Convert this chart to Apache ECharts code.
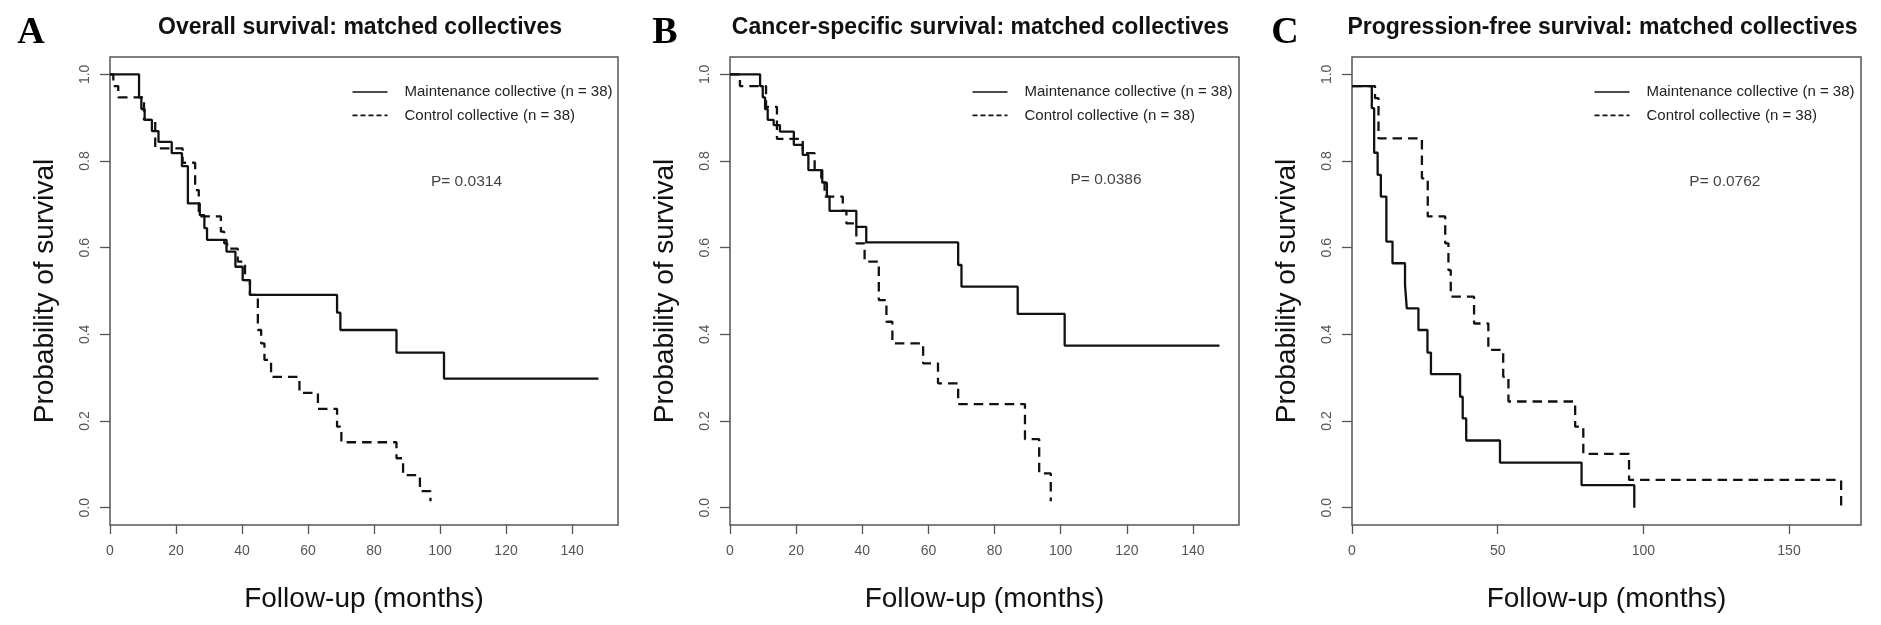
<!DOCTYPE html>
<html>
<head>
<meta charset="utf-8">
<script src="https://cdn.jsdelivr.net/npm/echarts@6.0.0/dist/echarts.min.js"></script>
<style>
html,body{margin:0;padding:0;background:#fff;}
#chart{width:1881px;height:625px;}
</style>
</head>
<body>
<div id="chart"></div>
<script>
// ---------- data (months, survival probability) ----------
const panelTitles = [
  'Overall survival: matched collectives',
  'Cancer-specific survival: matched collectives',
  'Progression-free survival: matched collectives'
];
const panelLetters = ['A', 'B', 'C'];
const seriesNames = ['Maintenance collective (n = 38)', 'Control collective (n = 38)'];
const pValues = ['P= 0.0314', 'P= 0.0386', 'P= 0.0762'];

const xTicksAB = [0, 20, 40, 60, 80, 100, 120, 140];
const xTicksC = [0, 50, 100, 150];
const yTicks = [0, 0.2, 0.4, 0.6, 0.8, 1.0];

// A: overall survival
const osMaintT = [0, 8.8, 9.5, 10.5, 12.7, 14.7, 18.7, 21.8, 23.6, 27.2, 28.6, 29.4, 35.3, 38.0, 40.2, 42.4, 68.8, 69.8, 86.8, 101.2, 148];
const osMaintS = [1, 0.947, 0.920, 0.895, 0.869, 0.844, 0.818, 0.788, 0.702, 0.675, 0.645, 0.618, 0.591, 0.556, 0.525, 0.491, 0.45, 0.41, 0.358, 0.298, 0.298];
const osCtrlT = [0, 1.0, 2.5, 10.3, 13.7, 22.0, 25.8, 26.9, 33.6, 34.6, 35.5, 38.7, 40.9, 42.4, 44.8, 45.8, 46.8, 48.8, 57.4, 63.0, 68.8, 70.1, 86.8, 88.8, 93.9, 97.1];
const osCtrlS = [1, 0.973, 0.947, 0.895, 0.829, 0.796, 0.733, 0.672, 0.637, 0.61, 0.598, 0.568, 0.525, 0.491, 0.41, 0.379, 0.341, 0.302, 0.265, 0.228, 0.187, 0.151, 0.114, 0.075, 0.038, 0.015];

// B: cancer-specific survival
const cssMaintT = [0, 9.1, 9.9, 10.6, 11.4, 13.2, 15.1, 19.3, 22.0, 23.7, 27.9, 29.3, 30.1, 38.2, 41.2, 69.0, 70.0, 87.0, 101.2, 148];
const cssMaintS = [1, 0.973, 0.947, 0.92, 0.895, 0.883, 0.868, 0.837, 0.814, 0.779, 0.75, 0.718, 0.685, 0.648, 0.612, 0.56, 0.51, 0.447, 0.374, 0.374];
const cssCtrlT = [0, 3.0, 10.9, 14.2, 22.0, 25.6, 27.6, 28.6, 34.1, 35.2, 38.2, 40.7, 45.0, 47.3, 49.1, 58.4, 62.9, 69.0, 89.2, 93.5, 97.0];
const cssCtrlS = [1, 0.973, 0.925, 0.851, 0.818, 0.779, 0.756, 0.718, 0.685, 0.656, 0.61, 0.568, 0.479, 0.429, 0.379, 0.333, 0.287, 0.239, 0.158, 0.079, 0.015];

// C: progression-free survival
const pfsMaintT = [0, 6.8, 7.6, 8.8, 9.9, 11.8, 13.9, 18.2, 18.8, 22.8, 25.9, 27.1, 37.1, 38.0, 39.2, 50.8, 78.8, 96.9];
const pfsMaintS = [0.973, 0.922, 0.819, 0.768, 0.718, 0.614, 0.564, 0.514, 0.46, 0.41, 0.358, 0.308, 0.256, 0.206, 0.155, 0.104, 0.052, 0];
const pfsCtrlT = [0, 7.9, 9.1, 24.0, 26.0, 32.0, 33.1, 33.9, 41.9, 46.8, 51.9, 53.7, 76.6, 79.4, 95.1, 167.9];
const pfsCtrlS = [0.973, 0.945, 0.852, 0.76, 0.672, 0.61, 0.548, 0.487, 0.425, 0.364, 0.302, 0.245, 0.187, 0.124, 0.064, 0];

// p-value annotation anchor (data coordinates)
const pValueAnchors = [[108, 0.752], [113.7, 0.756], [128, 0.752]];

// ---------- build ----------
const FONT = '"Liberation Sans", Arial, Helvetica, sans-serif';
const pairs = (T, S) => T.map((t, i) => [t, S[i]]);
const curves = [
  [pairs(osMaintT, osMaintS), pairs(osCtrlT, osCtrlS)],
  [pairs(cssMaintT, cssMaintS), pairs(cssCtrlT, cssCtrlS)],
  [pairs(pfsMaintT, pfsMaintS), pairs(pfsCtrlT, pfsCtrlS)]
];
const xMax = [148 * 1.04, 148 * 1.04, 168 * 1.04];
const xTicks = [xTicksAB, xTicksAB, xTicksC];
const gridLeft = [110, 730, 1352];
const gridWidth = [508, 509, 509];
const letterX = [31, 665, 1285];

const grids = [], xAxes = [], yAxes = [], series = [], legends = [], graphics = [];
for (let p = 0; p < 3; p++) {
  grids.push({
    left: gridLeft[p], top: 57, width: gridWidth[p], height: 468,
    show: true, borderColor: '#555', borderWidth: 1.5, backgroundColor: 'transparent'
  });
  xAxes.push({
    type: 'value', gridIndex: p, min: 0, max: xMax[p], position: 'bottom',
    axisLine: { show: false, onZero: false },
    axisTick: { show: true, inside: false, length: 9, customValues: xTicks[p], lineStyle: { color: '#555', width: 1.3 } },
    axisLabel: { show: true, customValues: xTicks[p], margin: 19, color: '#555', fontSize: 14, fontFamily: FONT },
    splitLine: { show: false },
    name: 'Follow-up (months)', nameLocation: 'middle', nameGap: 60,
    nameTextStyle: { fontSize: 28, color: '#111', fontFamily: FONT }
  });
  yAxes.push({
    type: 'value', gridIndex: p, min: -0.04, max: 1.04, position: 'left',
    axisLine: { show: false, onZero: false },
    axisTick: { show: true, inside: false, length: 10, customValues: yTicks, lineStyle: { color: '#555', width: 1.3 } },
    axisLabel: { show: true, customValues: yTicks, rotate: 90, margin: 18, color: '#555', fontSize: 14, fontFamily: FONT,
      formatter: v => Number(v).toFixed(1) },
    splitLine: { show: false },
    name: 'Probability of survival', nameLocation: 'middle', nameGap: 51,
    nameTextStyle: { fontSize: 28, color: '#111', fontFamily: FONT }
  });
  series.push({
    name: seriesNames[0], type: 'line', step: 'end', xAxisIndex: p, yAxisIndex: p,
    data: curves[p][0], symbol: 'none', showSymbol: false, silent: true,
    lineStyle: { color: '#111', width: 2.3, type: 'solid' }, itemStyle: { color: '#111' }
  });
  series.push({
    name: seriesNames[1], type: 'line', step: 'end', xAxisIndex: p, yAxisIndex: p,
    data: curves[p][1], symbol: 'none', showSymbol: false, silent: true,
    lineStyle: { color: '#111', width: 2.3, type: [9.5, 6] }, itemStyle: { color: '#111' }
  });
  series.push({
    type: 'scatter', xAxisIndex: p, yAxisIndex: p, symbolSize: 0, silent: true,
    data: [pValueAnchors[p]],
    label: { show: true, position: 'inside', formatter: pValues[p], color: '#111', fontSize: 15.5, fontFamily: FONT }
  });
  legends.push({
    orient: 'vertical', left: gridLeft[p] + 236.7, top: 79.5,
    itemWidth: 35, itemHeight: 16, itemGap: 8.4, selectedMode: false,
    textStyle: { fontSize: 15, color: '#222', fontFamily: FONT, padding: [0, 0, 0, 12] },
    data: [
      { name: seriesNames[0], itemStyle: { opacity: 0, borderWidth: 0 },
        lineStyle: { color: '#111', width: 1.6, type: 'solid' } },
      { name: seriesNames[1], itemStyle: { opacity: 0, borderWidth: 0 },
        lineStyle: { color: '#111', width: 1.6, type: [5, 3] } }
    ]
  });
  graphics.push({
    type: 'text', x: gridLeft[p] + gridWidth[p] / 2 - 4, y: 28, silent: true,
    style: { text: panelTitles[p], textAlign: 'center', textVerticalAlign: 'middle',
      font: 'bold 23px ' + FONT, fill: '#111' }
  });
  graphics.push({
    type: 'text', x: letterX[p], y: 33, silent: true,
    style: { text: panelLetters[p], textAlign: 'center', textVerticalAlign: 'middle',
      font: 'bold 38px "Liberation Serif", "Times New Roman", serif', fill: '#000' }
  });
}

const chart = echarts.init(document.getElementById('chart'));
chart.setOption({
  backgroundColor: '#fff',
  animation: false,
  grid: grids, xAxis: xAxes, yAxis: yAxes, series: series, legend: legends, graphic: graphics
});
</script>
</body>
</html>
